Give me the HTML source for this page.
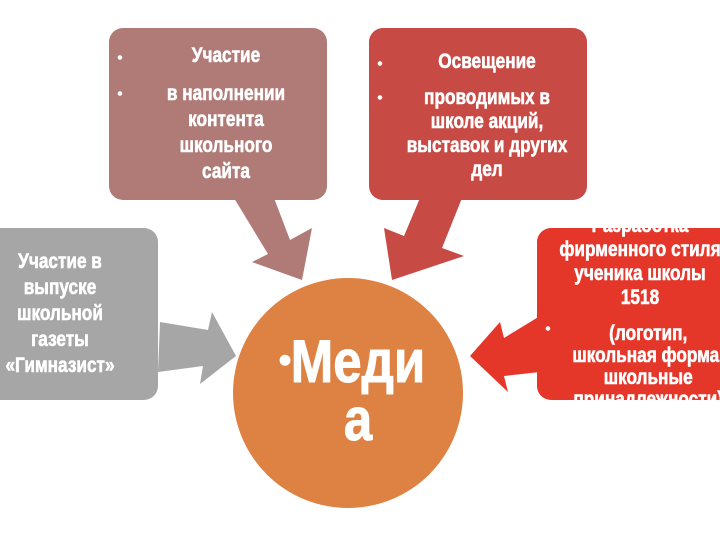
<!DOCTYPE html>
<html><head><meta charset="utf-8"><style>
html,body{margin:0;padding:0;background:#fff;width:720px;height:540px;overflow:hidden}
svg{display:block}
text{font-family:"Liberation Sans",sans-serif;font-weight:bold;fill:#fff}
</style></head><body>
<svg width="720" height="540" viewBox="0 0 720 540">
<defs><clipPath id="cr"><rect x="537" y="228" width="210" height="172" rx="14"/></clipPath></defs>
<polygon points="160,322 208,330 212,312 236,356 200,384 203,366 158,372" fill="#a6a6a6"/>
<polygon points="234,198 274,198 290,240 312,228 302,280 252,262 268,254" fill="#b07a76"/>
<polygon points="420,198 462,198 442,248 464,256 392,280 384,228 404,236" fill="#c84a45"/>
<polygon points="540,316 540,372 504,376 508,392 470,356 500,322 504,338" fill="#e5362a"/>
<rect x="109" y="28" width="218" height="172" rx="14" fill="#b07a76"/>
<rect x="369" y="28" width="218" height="172" rx="14" fill="#c84a45"/>
<rect x="-20" y="228" width="178" height="172" rx="14" fill="#a6a6a6"/>
<rect x="537" y="228" width="210" height="172" rx="14" fill="#e5362a"/>
<circle cx="348" cy="393" r="115" fill="#de8243"/>
<g font-size="21" text-anchor="middle" stroke="#fff" stroke-width="0.6">
<text x="120" y="62" font-size="14">•</text>
<text x="120" y="98" font-size="14">•</text>
<g transform="translate(226,0) scale(0.82,1)">
<text x="0" y="62">Участие</text>
<text x="0" y="100">в наполнении</text>
<text x="0" y="126">контента</text>
<text x="0" y="152">школьного</text>
<text x="0" y="178">сайта</text>
</g>
<text x="380" y="68" font-size="14">•</text>
<text x="380" y="102" font-size="14">•</text>
<g transform="translate(487,0) scale(0.82,1)">
<text x="0" y="68">Освещение</text>
<text x="0" y="104">проводимых в</text>
<text x="0" y="128">школе акций,</text>
<text x="0" y="152">выставок и других</text>
<text x="0" y="176">дел</text>
</g>
<g transform="translate(60,0) scale(0.82,1)">
<text x="0" y="268">Участие в</text>
<text x="0" y="294">выпуске</text>
<text x="0" y="320">школьной</text>
<text x="0" y="346">газеты</text>
<text x="0" y="372">«Гимназист»</text>
</g>
<g clip-path="url(#cr)">
<text x="548" y="333" font-size="14">•</text>
<g transform="translate(640,0) scale(0.82,1)">
<text x="0" y="232">Разработка</text>
<text x="0" y="256">фирменного стиля</text>
<text x="0" y="280">ученика школы</text>
<text x="0" y="304">1518</text>
<text x="10" y="340">(логотип,</text>
<text x="10" y="362">школьная форма,</text>
<text x="10" y="384">школьные</text>
<text x="10" y="406">принадлежности)</text>
</g>
</g>
<text x="285" y="372" font-size="36">•</text>
<g transform="translate(358,0) scale(0.85,1)" stroke-width="1">
<text x="0" y="382" font-size="60">Меди</text>
<text x="0" y="440" font-size="60">а</text>
</g>
</g>
</svg>
</body></html>
